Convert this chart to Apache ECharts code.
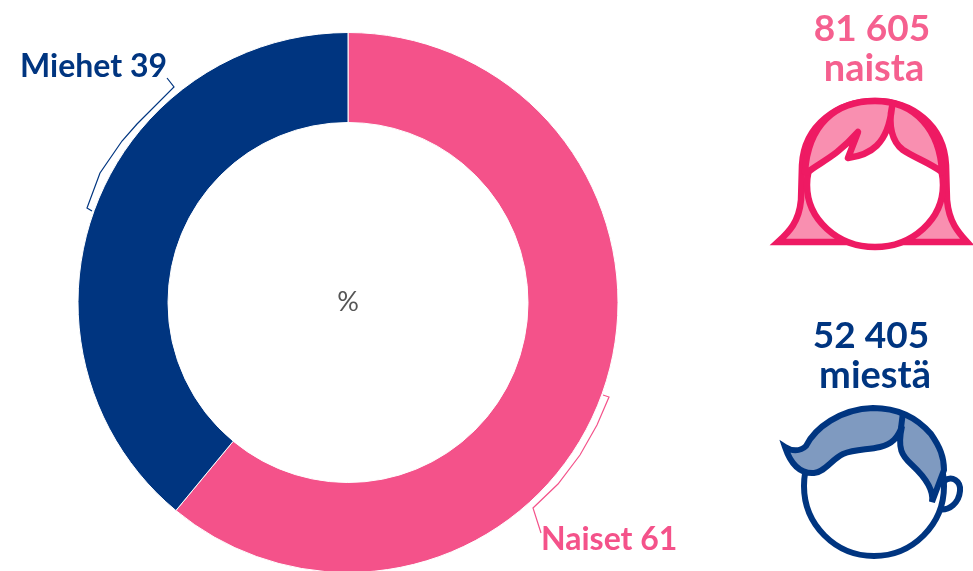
<!DOCTYPE html>
<html><head><meta charset="utf-8">
<style>html,body{margin:0;padding:0;background:#fff}#c{width:973px;height:571px}</style>
<script src="https://cdn.jsdelivr.net/npm/echarts@6/dist/echarts.min.js"></script></head>
<body><div id="c"></div>
<script>
const categories = ['Naiset', 'Miehet'];
const shares = [61, 39];
const sliceColors = ['#f4528a', '#003580'];
const counts = ['81 605', '52 405'];
const countWords = ['naista', 'miestä'];
const unit = '%';

const PINK = '#ee1a63', PINKL = '#f98fb0', BLUE = '#003580', BLUEL = '#7f9ac0';
const FONT = 'Lato';
const labelPos = [{x: 541, y: 540}, {x: 20, y: 67}];

function bigText(x, y, t, color, size) {
  return {type: 'text', x: x, y: y, silent: true,
    style: {text: t, fill: color, font: '700 ' + size + 'px ' + FONT, align: 'center', verticalAlign: 'middle'}};
}
function line(pts, color) {
  return {type: 'polyline', shape: {points: pts}, silent: true,
    style: {stroke: color, lineWidth: 1.2, fill: null}};
}
function P(d, fill, stroke, w, join) {
  return {type: 'path', shape: {pathData: d},
    style: {fill: fill, stroke: stroke, lineWidth: w, lineJoin: join || 'miter', miterLimit: 8}};
}
const iconParts = [
  // woman
  P('M778 242 C789 232 799 222 801 200 L802 165 C804 125 838 101 875 101 C912 101 944 125 946 165 L947 200 C949 222 958 232 967 242 Z', PINKL, PINK, 6.5),
  P('M807 185 A68 62 0 1 1 943 185 A68 62 0 1 1 807 185 Z', '#fff', PINK, 6.5),
  P('M808 172 C820 162 835 158 858 132 L848 158 C870 155 888 145 892 107 C888 125 892 142 903 150 C915 158 928 162 942 172 C940 130 915 101 875 101 C835 101 808 125 805 172 Z', PINKL, PINK, 6.5, 'round'),
  // man
  P('M944 481 C952 475 961 481 960 491 C959 502 950 512 937 509 Z', '#fff', BLUE, 6, 'round'),
  P('M804 486 A70 70 0 1 1 944 486 A70 70 0 1 1 804 486 Z', '#fff', BLUE, 6),
  P('M785 447 C791 451 800 452 806 446 C815 428 840 409 873 408 C900 408 918 419 931 434 C940 447 944 457 944 470 L932 502 C934 490 926 478 912 465 C902 456 897 449 902 426 C898 438 892 444 880 447 C868 450 855 449 843 454 C832 459 825 472 814 473 C798 474 790 462 785 447 Z', BLUEL, BLUE, 6),
  P('M903 412 L901 428', 'none', BLUE, 6)
];

const chart = echarts.init(document.getElementById('c'), null, {renderer: 'canvas'});
chart.setOption({
  animation: false,
  backgroundColor: '#fff',
  series: [{
    type: 'pie',
    center: [348, 302.5],
    radius: [180, 270],
    startAngle: 90,
    clockwise: true,
    silent: true,
    data: categories.map((n, i) => ({name: n, value: shares[i],
      itemStyle: {color: sliceColors[i]},
      label: {color: sliceColors[i]}})),
    itemStyle: {borderColor: '#fff', borderWidth: 1},
    label: {show: true, position: 'outside', formatter: '{b} {c}', overflow: 'none', width: 200,
      fontFamily: FONT, fontSize: 32, fontWeight: 700},
    labelLine: {show: false},
    labelLayout: p => ({x: labelPos[p.dataIndex].x, y: labelPos[p.dataIndex].y,
      align: 'left', verticalAlign: 'middle'})
  }, {
    type: 'custom',
    coordinateSystem: 'none',
    silent: true,
    data: [0],
    renderItem: () => ({type: 'group', children: iconParts})
  }],
  graphic: {elements: [
    line([[167,78],[174,87],[137,124],[122,141],[100,173],[87,208],[92,211]], BLUE),
    line([[603,395],[609,397],[597,425],[580,455],[558,484],[533,508],[541,533]], '#f4528a'),
    {type: 'text', x: 348, y: 302, silent: true,
     style: {text: unit, fill: '#555', font: '400 27px ' + FONT, align: 'center', verticalAlign: 'middle'}},
    bigText(872, 29, counts[0], '#f5608f', 37),
    bigText(874, 69, countWords[0], '#f5608f', 38),
    bigText(871, 336, counts[1], BLUE, 37),
    bigText(875, 376, countWords[1], BLUE, 38)
  ]}
});
</script></body></html>
